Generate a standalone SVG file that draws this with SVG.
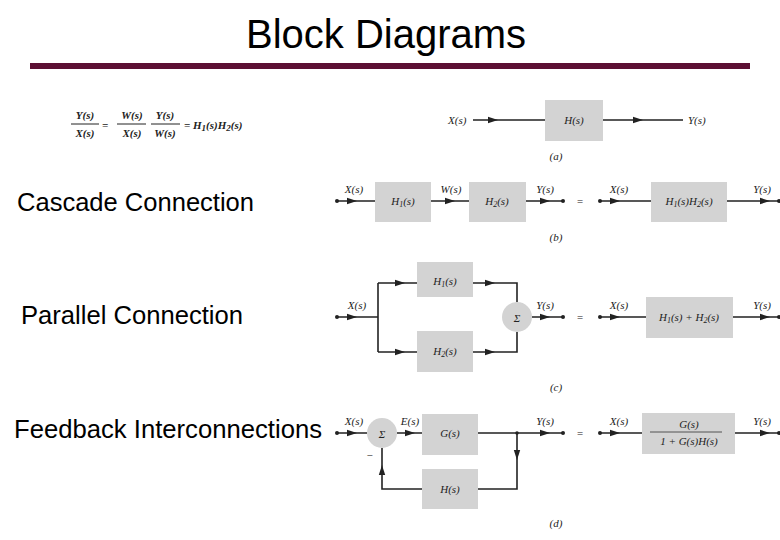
<svg xmlns="http://www.w3.org/2000/svg" width="780" height="540" viewBox="0 0 780 540">
<style>
.t{font-family:"Liberation Sans",Arial,sans-serif;fill:#000}
.m{font-family:"Liberation Serif","Times New Roman",serif;font-style:italic;font-size:11px;fill:#222}
.c{text-anchor:middle}
.b{fill:#d3d3d3}
.l{stroke:#222;stroke-width:1.6;fill:none}
</style>
<defs>
<path id="ah" d="M-5,-3.2 L5,0 L-5,3.2 Z" fill="#222"/>
</defs>
<rect width="780" height="540" fill="#fff"/>
<text class="t c" x="386" y="48" font-size="40">Block Diagrams</text>
<rect x="30" y="63" width="720" height="6" fill="#5c0f33"/>
<text class="t" x="17" y="211" font-size="25" textLength="237" lengthAdjust="spacingAndGlyphs">Cascade Connection</text>
<text class="t" x="21" y="324" font-size="25" textLength="222" lengthAdjust="spacingAndGlyphs">Parallel Connection</text>
<text class="t" x="14" y="438" font-size="25" textLength="308" lengthAdjust="spacingAndGlyphs">Feedback Interconnections</text>
<g id="equation" font-weight="bold">
<text class="m c" x="85" y="119" font-size="12">Y(s)</text><line x1="71" y1="124" x2="99" y2="124" stroke="#222"/><text class="m c" x="85" y="137" font-size="12">X(s)</text>
<text class="m" x="102" y="129" font-style="normal" font-size="13">=</text>
<text class="m c" x="132" y="119" font-size="12">W(s)</text><line x1="117" y1="124" x2="146" y2="124" stroke="#222"/><text class="m c" x="132" y="137" font-size="12">X(s)</text>
<text class="m c" x="165" y="119" font-size="12">Y(s)</text><line x1="151" y1="124" x2="180" y2="124" stroke="#222"/><text class="m c" x="165" y="137" font-size="12">W(s)</text>
<text class="m" x="184" y="129" font-size="13">= H<tspan font-size="9" dy="2">1</tspan><tspan dy="-2">(s)H</tspan><tspan font-size="9" dy="2">2</tspan><tspan dy="-2">(s)</tspan></text>
</g>
<g id="connectors">
<path class="l" d="M473,120 H545 M603,120 H683"/>
<path class="l" d="M337,201 H375 M431,201 H469 M526,201 H563 M600,201 H651 M727,201 H779"/>
<path class="l" d="M337,317 H378 M378,283 V352 M378,283 H417 M378,352 H417 M473,283 H517 V302 M473,352 H517 V332 M532,317 H563 M600,317 H646 M733,317 H779"/>
<path class="l" d="M337,433 H367 M397,433 H422 M478,433 H563 M517,433 V489 H382 V448 M600,433 H642 M735,433 H779"/>
<g>
<use href="#ah" transform="translate(493,120)"/><use href="#ah" transform="translate(638,120)"/>
<use href="#ah" transform="translate(352,201)"/><use href="#ah" transform="translate(450,201)"/><use href="#ah" transform="translate(545,201)"/><use href="#ah" transform="translate(615,201)"/><use href="#ah" transform="translate(765,201)"/>
<use href="#ah" transform="translate(352,317)"/><use href="#ah" transform="translate(400,283)"/><use href="#ah" transform="translate(400,352)"/><use href="#ah" transform="translate(490,283)"/><use href="#ah" transform="translate(490,352)"/><use href="#ah" transform="translate(545,317)"/><use href="#ah" transform="translate(615,317)"/><use href="#ah" transform="translate(765,317)"/>
<use href="#ah" transform="translate(352,433)"/><use href="#ah" transform="translate(410,433)"/><use href="#ah" transform="translate(545,433)"/><use href="#ah" transform="translate(517,455) rotate(90)"/><use href="#ah" transform="translate(382,470) rotate(-90)"/><use href="#ah" transform="translate(615,433)"/><use href="#ah" transform="translate(765,433)"/>
</g>
<g fill="#222"><circle cx="337" cy="201" r="2"/><circle cx="563" cy="201" r="2"/><circle cx="600" cy="201" r="2"/><circle cx="779" cy="201" r="2"/>
<circle cx="337" cy="317" r="2"/><circle cx="563" cy="317" r="2"/><circle cx="600" cy="317" r="2"/><circle cx="779" cy="317" r="2"/>
<circle cx="337" cy="433" r="2"/><circle cx="563" cy="433" r="2"/><circle cx="600" cy="433" r="2"/><circle cx="779" cy="433" r="2"/><circle cx="517" cy="433" r="1.8"/></g>
</g>
<g id="a"><rect class="b" x="545" y="100" width="58" height="41"/><text class="m c" x="574" y="124">H(s)</text><text class="m" x="448" y="124">X(s)</text><text class="m" x="688" y="124">Y(s)</text><text class="m c" x="556" y="160" font-style="normal" font-size="9">(a)</text></g>
<g id="b"><rect class="b" x="375" y="182" width="56" height="40"/><text class="m c" x="403" y="205">H<tspan font-size="8" dy="2">1</tspan><tspan dy="-2">(s)</tspan></text>
<rect class="b" x="469" y="182" width="57" height="40"/><text class="m c" x="497" y="205">H<tspan font-size="8" dy="2">2</tspan><tspan dy="-2">(s)</tspan></text>
<rect class="b" x="651" y="182" width="76" height="40"/><text class="m c" x="689" y="205">H<tspan font-size="8" dy="2">1</tspan><tspan dy="-2">(s)H</tspan><tspan font-size="8" dy="2">2</tspan><tspan dy="-2">(s)</tspan></text>
<text class="m c" x="354" y="193">X(s)</text><text class="m c" x="451" y="193">W(s)</text><text class="m c" x="545" y="193">Y(s)</text><text class="m c" x="619" y="193">X(s)</text><text class="m c" x="762" y="193">Y(s)</text>
<text class="m c" x="580" y="205" font-style="normal" font-size="13">=</text><text class="m c" x="556" y="241" font-style="normal" font-size="9">(b)</text></g>
<g id="c"><rect class="b" x="417" y="262" width="56" height="35"/><text class="m c" x="445" y="285">H<tspan font-size="8" dy="2">1</tspan><tspan dy="-2">(s)</tspan></text>
<rect class="b" x="417" y="331" width="56" height="41"/><text class="m c" x="445" y="355">H<tspan font-size="8" dy="2">2</tspan><tspan dy="-2">(s)</tspan></text>
<circle cx="517" cy="317" r="15" fill="#d3d3d3"/><text class="m c" x="517" y="322" font-style="normal" font-size="13">Σ</text>
<rect class="b" x="646" y="297" width="87" height="41"/><text class="m c" x="689" y="321">H<tspan font-size="8" dy="2">1</tspan><tspan dy="-2">(s) + H</tspan><tspan font-size="8" dy="2">2</tspan><tspan dy="-2">(s)</tspan></text>
<text class="m c" x="357" y="309">X(s)</text><text class="m c" x="545" y="309">Y(s)</text><text class="m c" x="619" y="309">X(s)</text><text class="m c" x="762" y="309">Y(s)</text>
<text class="m c" x="580" y="321" font-style="normal" font-size="13">=</text><text class="m c" x="556" y="391" font-style="normal" font-size="9">(c)</text></g>
<g id="d"><circle cx="382" cy="433" r="15" fill="#d3d3d3"/><text class="m c" x="382" y="438" font-style="normal" font-size="13">Σ</text>
<rect class="b" x="422" y="414" width="56" height="41"/><text class="m c" x="450" y="437">G(s)</text>
<rect class="b" x="422" y="469" width="56" height="40"/><text class="m c" x="450" y="493">H(s)</text>
<rect class="b" x="642" y="413" width="93" height="41"/><text class="m c" x="689" y="428">G(s)</text><line x1="650" y1="432" x2="722" y2="432" stroke="#333" stroke-width="0.8"/><text class="m c" x="689" y="445">1 + G(s)H(s)</text>
<text class="m c" x="354" y="425">X(s)</text><text class="m c" x="410" y="425">E(s)</text><text class="m c" x="545" y="425">Y(s)</text><text class="m c" x="619" y="425">X(s)</text><text class="m c" x="762" y="425">Y(s)</text>
<text class="m c" x="370" y="459" font-style="normal" font-size="12">−</text>
<text class="m c" x="580" y="437" font-style="normal" font-size="13">=</text><text class="m c" x="556" y="527" font-style="normal" font-size="9">(d)</text></g>
</svg>
